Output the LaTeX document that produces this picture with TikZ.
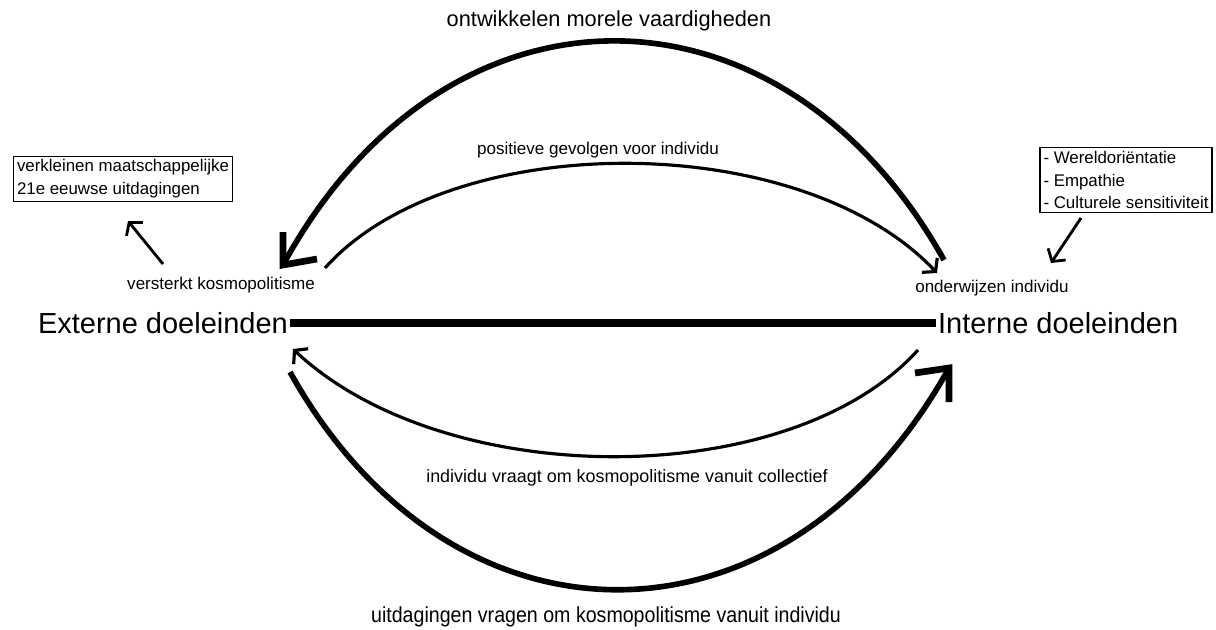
\documentclass[tikz,border=0pt]{standalone}
\usepackage{fontspec}
\setmainfont{Liberation Sans}
\newfontfamily\narrowsans[FakeStretch=0.9]{Liberation Sans}
\usetikzlibrary{arrows.meta,positioning}

\begin{document}
\begin{tikzpicture}[
    x=0.02cm, y=-0.02cm,
    goal/.style={font=\fontsize{16.5}{20}\selectfont, inner sep=1pt},
    lbl/.style={font=\fontsize{9.7}{11}\selectfont, inner sep=1pt},
    arclbl/.style={font=\fontsize{12.4}{14}\selectfont, inner sep=1pt},
    listbox/.style={draw, line width=0.6pt, align=left, inner sep=2pt, font=\fontsize{9.6}{13}\selectfont},
    bigarc/.style={line width=3.2pt},
    bigtip/.style={line width=3.8pt},
    midarc/.style={line width=1.8pt, -{Straight Barb[length=5pt,width=12pt]}},
    tinyarrow/.style={line width=1.6pt, -{Straight Barb[length=5pt,width=12pt]}}
]
    \useasboundingbox (0,0) rectangle (1216,629);

    \node [goal, anchor=east] (ext) at (290,323) {Externe doeleinden};
    \node [goal, anchor=west] (int) at (936,323) {Interne doeleinden};
    \draw [line width=4pt] (ext) -- (int);

    \node [lbl] (kos) at (221,285) {versterkt kosmopolitisme};
    \node [lbl] (ond) at (992,288) {onderwijzen individu};
    \node [listbox] (uitd) at (123,179) {verkleinen maatschappelijke\\21e eeuwse uitdagingen};
    \node [listbox] (comp) at (1126,180) {- Wereldoriëntatie\\- Empathie\\- Culturele sensitiviteit};

    \coordinate (kosTail) at (163,264);
    \coordinate (uitdTip) at (128,221);
    \coordinate (compTail) at (1081,218);
    \coordinate (ondTip) at (1051,263);
    \draw [tinyarrow] (kosTail) -- (uitdTip);
    \draw [tinyarrow] (compTail) -- (ondTip);

    \node [arclbl] (moreel) at (609,21) {ontwikkelen morele vaardigheden};
    \node [lbl] (gevolg) at (598,150) {positieve gevolgen voor individu};
    \node [lbl, font=\fontsize{10.2}{12}\selectfont] (vraagt) at (627,478) {individu vraagt om kosmopolitisme vanuit collectief};
    \node [arclbl, font=\narrowsans\fontsize{12.4}{14}\selectfont] (vanuit) at (606,617) {uitdagingen vragen om kosmopolitisme vanuit individu};

    \coordinate (topR) at (944,260);
    \coordinate (topL) at (283,265);
    \coordinate (posL) at (325,268);
    \coordinate (posR) at (937,273);
    \coordinate (colR) at (918,350);
    \coordinate (colL) at (293,349);
    \coordinate (uitL) at (290,372);
    \coordinate (uitR) at (949,368);

    \draw [bigarc] (topR) .. controls (780,-33) and (445,-33) .. (topL);
    \draw [bigtip] (topL) ++(0,-33) -- (topL) -- ++(34,-6);
    \draw [midarc] (posL) .. controls (450,128) and (800,128) .. (posR);
    \draw [midarc] (colR) .. controls (790,492) and (445,492) .. (colL);
    \draw [bigarc] (uitL) .. controls (452,663) and (785,663) .. (uitR);
    \draw [bigtip] (uitR) ++(-34,5) -- (uitR) -- ++(0,34);
\end{tikzpicture}
\end{document}
